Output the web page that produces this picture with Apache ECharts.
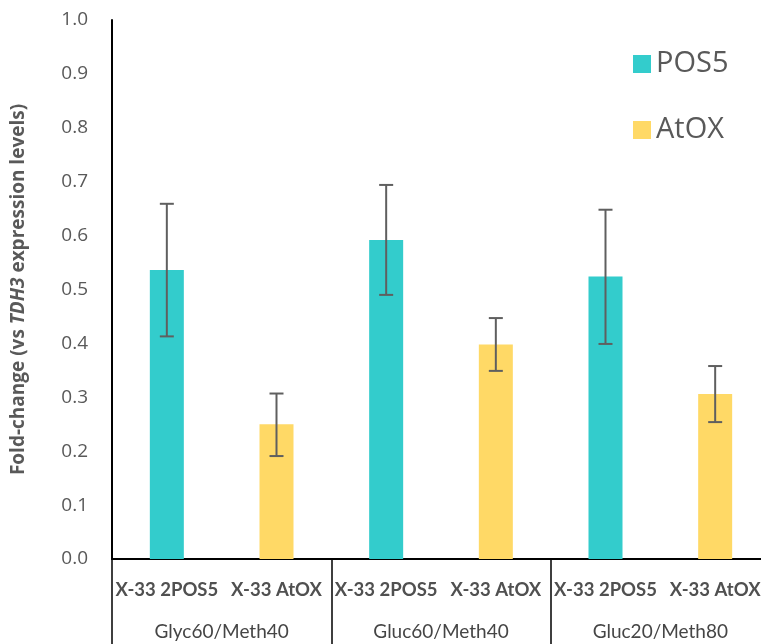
<!DOCTYPE html>
<html><head><meta charset="utf-8">
<script src="https://cdn.jsdelivr.net/npm/echarts@6/dist/echarts.min.js"></script>
<style>html,body{margin:0;padding:0;background:#fff}#c{width:761px;height:644px}</style>
</head><body><div id="c"></div>
<script>
const barLabels = ['X-33 2POS5','X-33 AtOX','X-33 2POS5','X-33 AtOX','X-33 2POS5','X-33 AtOX'];
const groups = ['Glyc60/Meth40','Gluc60/Meth40','Gluc20/Meth80'];
const pos5 = [0.536, '-', 0.592, '-', 0.524, '-'];
const atox = ['-', 0.250, '-', 0.398, '-', 0.306];
const errLow = [0.413, 0.191, 0.490, 0.349, 0.399, 0.254];
const errHigh = [0.659, 0.307, 0.694, 0.447, 0.648, 0.358];

const errData = barLabels.map((_, i) => [i, errLow[i], errHigh[i]]);
const chart = echarts.init(document.getElementById('c'));
chart.setOption({
  animation: false,
  grid: {left: 112, top: 20, width: 658, height: 539, outerBoundsMode: 'none', containLabel: false},
  legend: {
    orient: 'vertical', left: 628, top: 44, itemWidth: 18, itemHeight: 18, itemGap: 36,
    icon: 'rect',
    textStyle: {fontFamily: 'Open Sans', fontSize: 29, lineHeight: 30, color: '#595959'},
    data: ['POS5','AtOX']
  },
  xAxis: [{
    type: 'category', data: barLabels, position: 'bottom',
    axisLine: {show: true, lineStyle: {color: '#000', width: 2}},
    axisTick: {show: false},
    axisLabel: {interval: 0, margin: 22, fontFamily: 'Lato', fontWeight: 'bold', fontSize: 18.5, color: '#505050'}
  }, {
    type: 'category', data: groups, position: 'bottom',
    axisLine: {show: false},
    axisTick: {show: true, length: 86, lineStyle: {color: '#000', width: 1.5}},
    axisLabel: {interval: 0, margin: 63, fontFamily: 'Lato', fontSize: 19, color: '#454545'}
  }],
  yAxis: {
    type: 'value', min: 0, max: 1, interval: 0.1,
    axisLine: {show: true, lineStyle: {color: '#000', width: 2}},
    axisTick: {show: false},
    splitLine: {show: false},
    axisLabel: {margin: 24, fontFamily: 'Open Sans', fontSize: 19, color: '#595959',
      formatter: v => v.toFixed(1)},
    name: 'Fold-change (vs {i|TDH3} expression levels)',
    nameLocation: 'middle', nameGap: 84, nameRotate: 90,
    nameTextStyle: {fontFamily: 'Open Sans', fontWeight: 'bold', fontSize: 19, color: '#595959',
      rich: {i: {fontFamily: 'Open Sans', fontStyle: 'italic', fontWeight: 'bold', fontSize: 19, color: '#595959'}}}
  },
  series: [{
    name: 'POS5', type: 'bar', data: pos5, barWidth: 34, barGap: '-100%',
    itemStyle: {color: '#33CCCC'}
  }, {
    name: 'AtOX', type: 'bar', data: atox, barWidth: 34, barGap: '-100%',
    itemStyle: {color: '#FFD966'}
  }, {
    type: 'custom', data: errData, z: 10,
    renderItem: (params, api) => {
      const x = api.value(0);
      const lo = api.coord([x, api.value(1)]);
      const hi = api.coord([x, api.value(2)]);
      const w = 7;
      const st = {stroke: '#5f5f5f', lineWidth: 2};
      return {type: 'group', children: [
        {type: 'line', shape: {x1: lo[0], y1: lo[1], x2: hi[0], y2: hi[1]}, style: st},
        {type: 'line', shape: {x1: lo[0]-w, y1: lo[1], x2: lo[0]+w, y2: lo[1]}, style: st},
        {type: 'line', shape: {x1: hi[0]-w, y1: hi[1], x2: hi[0]+w, y2: hi[1]}, style: st}
      ]};
    }
  }]
});
</script></body></html>
